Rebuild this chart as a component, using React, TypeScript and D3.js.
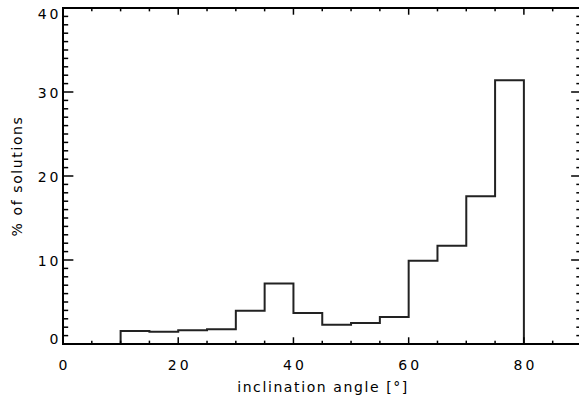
import React from 'react';
import * as d3 from 'd3';

// Histogram data: bin start angles (deg, width 5) and percentage of solutions
const binStarts = [0, 5, 10, 15, 20, 25, 30, 35, 40, 45, 50, 55, 60, 65, 70, 75, 80, 85];
const percentValues = [0, 0, 1.55, 1.45, 1.65, 1.75, 3.95, 7.2, 3.7, 2.3, 2.5, 3.2, 9.9, 11.7, 17.6, 31.4, 0, 0];
const binWidth = 5;

const xMajorTicks = [0, 20, 40, 60, 80];
const xTickLabels = ['0', '20', '40', '60', '80'];
const yMajorTicks = [0, 10, 20, 30, 40];
const yTickLabels = ['0', '10', '20', '30', '40'];
const xTitle = 'inclination angle [°]';
const yTitle = '% of solutions';

const W = 579;
const H = 401;
const M = { left: 63, right: -2.5, top: 8, bottom: 57 };
const FONT = '"DejaVu Sans", sans-serif';

export default function App() {
  const x = d3.scaleLinear().domain([0, 90]).range([M.left, W - M.right]);
  const y = d3.scaleLinear().domain([0, 40]).range([H - M.bottom, M.top]);
  const x0 = x.range()[0];
  const x1 = x.range()[1];
  const y0 = y.range()[0];
  const y1 = y.range()[1];

  const pts: [number, number][] = binStarts.map((b, i) => [b, percentValues[i]]);
  pts.push([binStarts[binStarts.length - 1] + binWidth, percentValues[percentValues.length - 1]]);
  const line = d3
    .line<[number, number]>()
    .x((d) => x(d[0]))
    .y((d) => y(d[1]))
    .curve(d3.curveStepAfter);

  const xMinor = d3.range(0, 90.001, 5).filter((v) => !xMajorTicks.includes(v));
  const yMinor = d3.range(0, 40.001, 1).filter((v) => !yMajorTicks.includes(v));

  const plotH = y0 - y1;
  const plotW = x1 - x0;
  const xTickLen = 0.02 * plotH;
  const yTickLen = 0.02 * plotW;

  const ls = 3;
  const yLabelY = (v: number) => {
    const p = y(v) + 2;
    return Math.min(Math.max(p, y1 + 7), y0 - 4);
  };

  return (
    <svg
      width={W}
      height={H}
      style={{ position: 'absolute', left: 0, top: 0, background: '#fff' }}
    >
      <rect x={0} y={0} width={W} height={H} fill="#fff" />
      {/* histogram */}
      <path d={line(pts) || ''} fill="none" stroke="#222" strokeWidth={2} />
      {/* frame */}
      <rect x={x0} y={y1} width={plotW} height={plotH} fill="none" stroke="#000" strokeWidth={2} />
      {/* x ticks bottom & top */}
      {xMajorTicks.map((v) => (
        <g key={'xM' + v}>
          <line x1={x(v)} x2={x(v)} y1={y0} y2={y0 - xTickLen} stroke="#000" strokeWidth={1.5} />
          <line x1={x(v)} x2={x(v)} y1={y1} y2={y1 + xTickLen} stroke="#000" strokeWidth={1.5} />
        </g>
      ))}
      {xMinor.map((v) => (
        <g key={'xm' + v}>
          <line x1={x(v)} x2={x(v)} y1={y0} y2={y0 - xTickLen / 2} stroke="#000" strokeWidth={1.5} />
          <line x1={x(v)} x2={x(v)} y1={y1} y2={y1 + xTickLen / 2} stroke="#000" strokeWidth={1.5} />
        </g>
      ))}
      {/* y ticks left & right */}
      {yMajorTicks.map((v) => (
        <g key={'yM' + v}>
          <line x1={x0} x2={x0 + yTickLen} y1={y(v)} y2={y(v)} stroke="#000" strokeWidth={1.5} />
          <line x1={x1} x2={x1 - yTickLen} y1={y(v)} y2={y(v)} stroke="#000" strokeWidth={1.5} />
        </g>
      ))}
      {yMinor.map((v) => (
        <g key={'ym' + v}>
          <line x1={x0} x2={x0 + yTickLen / 2} y1={y(v)} y2={y(v)} stroke="#000" strokeWidth={1.5} />
          <line x1={x1} x2={x1 - yTickLen / 2} y1={y(v)} y2={y(v)} stroke="#000" strokeWidth={1.5} />
        </g>
      ))}
      {/* x tick labels */}
      {xMajorTicks.map((v, i) => (
        <text
          key={'xl' + v}
          x={x(v) + ls / 2}
          y={y0 + 25.5}
          textAnchor="middle"
          fontFamily={FONT}
          fontSize={14}
          letterSpacing={ls}
          fill="#000"
        >
          {xTickLabels[i]}
        </text>
      ))}
      {/* y tick labels */}
      {yMajorTicks.map((v, i) => (
        <text
          key={'yl' + v}
          x={x0 - 4.5 + ls}
          y={yLabelY(v)}
          dominantBaseline="middle"
          textAnchor="end"
          fontFamily={FONT}
          fontSize={14}
          letterSpacing={ls}
          fill="#000"
        >
          {yTickLabels[i]}
        </text>
      ))}
      {/* axis titles */}
      <text
        x={(x0 + x1) / 2 + 0.8}
        y={y0 + 48}
        textAnchor="middle"
        fontFamily={FONT}
        fontSize={14}
        letterSpacing={1.6}
        fill="#000"
      >
        {xTitle}
      </text>
      <text
        transform={`translate(22, ${(y0 + y1) / 2}) rotate(-90)`}
        textAnchor="middle"
        fontFamily={FONT}
        fontSize={14}
        letterSpacing={1.6}
        fill="#000"
      >
        {yTitle}
      </text>
    </svg>
  );
}
